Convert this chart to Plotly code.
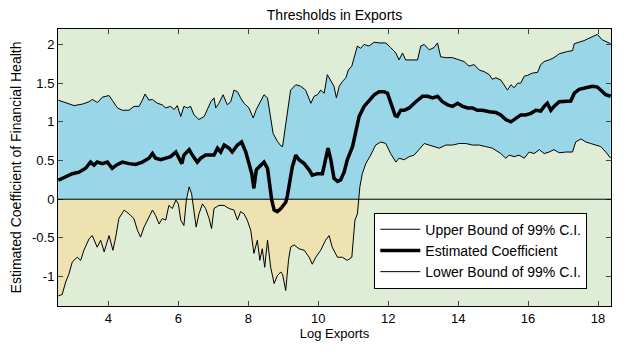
import numpy as np
import plotly.graph_objects as go

# ---- data ----
x_upper = [2.57, 2.78, 3.02, 3.26, 3.45, 3.54, 3.69, 3.83, 4.02, 4.11, 4.26, 4.40, 4.59, 4.73, 4.88, 4.97,
           5.05, 5.16, 5.26, 5.40, 5.54, 5.64, 5.78, 5.88, 5.97, 6.07, 6.16, 6.26, 6.35, 6.45, 6.59, 6.74,
           6.83, 6.93, 7.02, 7.07, 7.16, 7.28, 7.40, 7.50, 7.59, 7.69, 7.78, 7.88, 8.02, 8.14, 8.23, 8.36,
           8.45, 8.55, 8.64, 8.71, 8.83, 8.93, 8.98, 9.02, 9.12, 9.21, 9.36, 9.50, 9.64, 9.79, 9.88, 9.98,
           10.07, 10.17, 10.26, 10.36, 10.45, 10.52, 10.60, 10.69, 10.79, 10.86, 10.96, 11.02, 11.12, 11.21,
           11.31, 11.45, 11.60, 11.74, 11.93, 12.07, 12.22, 12.31, 12.41, 12.50, 12.65, 12.84, 12.93, 13.03,
           13.17, 13.31, 13.41, 13.50, 13.65, 13.84, 14.03, 14.17, 14.31, 14.46, 14.60, 14.74, 14.89, 14.98,
           15.08, 15.22, 15.31, 15.41, 15.51, 15.60, 15.70, 15.79, 15.89, 15.98, 16.12, 16.27, 16.36, 16.46,
           16.60, 16.74, 16.89, 17.03, 17.13, 17.27, 17.32, 17.46, 17.60, 17.74, 17.88, 17.98, 18.12, 18.26, 18.36]
upper = [1.28, 1.25, 1.21, 1.23, 1.26, 1.29, 1.25, 1.32, 1.34, 1.28, 1.18, 1.15, 1.15, 1.20, 1.20, 1.28,
         1.36, 1.28, 1.29, 1.24, 1.22, 1.18, 1.20, 1.16, 1.21, 1.07, 1.20, 1.18, 1.20, 1.09, 1.03, 1.07,
         1.16, 1.26, 1.31, 1.18, 1.24, 1.35, 1.22, 1.26, 1.41, 1.39, 1.31, 1.24, 1.18, 1.05, 1.16, 1.28,
         1.35, 1.31, 1.05, 0.85, 0.75, 0.69, 0.68, 0.81, 1.11, 1.41, 1.48, 1.46, 1.41, 1.24, 1.33, 1.35,
         1.41, 1.37, 1.61, 1.52, 1.46, 1.31, 1.46, 1.52, 1.57, 1.67, 1.72, 1.82, 1.98, 1.95,
         2.00, 1.98, 2.03, 2.02, 2.02, 1.96, 1.89, 1.80, 1.89, 1.80, 1.80, 1.80, 1.98, 2.00,
         1.93, 1.96, 2.02, 1.84, 1.83, 1.83, 1.80, 1.78, 1.72, 1.74, 1.67, 1.65, 1.61, 1.55,
         1.57, 1.54, 1.48, 1.41, 1.48, 1.44, 1.50, 1.50, 1.59, 1.60, 1.63, 1.64, 1.74, 1.78,
         1.80, 1.83, 1.88, 1.90, 1.91, 1.92, 2.01, 2.03, 2.05, 2.08, 2.11, 2.13, 2.06, 2.03, 2.01]

x_est = [2.57, 2.78, 2.97, 3.16, 3.35, 3.49, 3.59, 3.68, 3.83, 3.97, 4.11, 4.26, 4.40, 4.59, 4.78, 4.97,
         5.16, 5.26, 5.35, 5.50, 5.64, 5.78, 5.93, 6.02, 6.10, 6.16, 6.31, 6.40, 6.54, 6.64, 6.78, 6.93,
         7.02, 7.12, 7.21, 7.31, 7.45, 7.54, 7.69, 7.81, 7.93, 8.02, 8.10, 8.16, 8.23, 8.36, 8.45, 8.55,
         8.61, 8.67, 8.74, 8.83, 8.93, 9.02, 9.07, 9.12, 9.19, 9.26, 9.36, 9.45, 9.60, 9.74, 9.83, 9.98,
         10.12, 10.21, 10.28, 10.36, 10.45, 10.55, 10.64, 10.74, 10.83, 10.98, 11.07, 11.17, 11.31, 11.45,
         11.60, 11.74, 11.88, 11.98, 12.07, 12.20, 12.26, 12.36, 12.46, 12.60, 12.79, 12.98, 13.13, 13.27,
         13.41, 13.55, 13.70, 13.84, 13.98, 14.13, 14.27, 14.41, 14.55, 14.70, 14.89, 15.08, 15.22, 15.36,
         15.51, 15.65, 15.79, 15.93, 16.08, 16.22, 16.36, 16.46, 16.55, 16.65, 16.74, 16.89, 17.03, 17.22,
         17.32, 17.46, 17.65, 17.84, 17.98, 18.12, 18.22, 18.36]
estimate = [0.245, 0.29, 0.33, 0.35, 0.40, 0.48, 0.44, 0.48, 0.46, 0.48, 0.40, 0.45, 0.48, 0.46, 0.45, 0.48,
            0.53, 0.59, 0.53, 0.51, 0.53, 0.55, 0.61, 0.53, 0.46, 0.57, 0.64, 0.57, 0.48, 0.53, 0.57, 0.57,
            0.57, 0.66, 0.61, 0.70, 0.66, 0.61, 0.70, 0.74, 0.61, 0.46, 0.33, 0.14, 0.38, 0.44, 0.48, 0.40,
            0.20, -0.01, -0.14, -0.16, -0.12, -0.06, -0.04, 0.05, 0.25, 0.42, 0.57, 0.51, 0.46, 0.38, 0.31, 0.33,
            0.33, 0.55, 0.66, 0.51, 0.27, 0.23, 0.25, 0.35, 0.51, 0.68, 0.85, 1.07, 1.20, 1.28,
            1.35, 1.39, 1.39, 1.37, 1.24, 1.08, 1.07, 1.15, 1.15, 1.18, 1.26, 1.33, 1.33, 1.31,
            1.33, 1.26, 1.22, 1.20, 1.24, 1.20, 1.18, 1.18, 1.15, 1.15, 1.13, 1.12, 1.09, 1.03,
            1.00, 1.05, 1.09, 1.09, 1.11, 1.15, 1.14, 1.20, 1.24, 1.15, 1.20, 1.26, 1.26, 1.27,
            1.37, 1.42, 1.44, 1.46, 1.45, 1.39, 1.35, 1.33]

x_lower = [2.57, 2.68, 2.78, 2.87, 2.97, 3.11, 3.21, 3.30, 3.45, 3.54, 3.68, 3.78, 3.88, 4.02, 4.13, 4.21,
           4.30, 4.45, 4.59, 4.73, 4.83, 4.92, 5.02, 5.11, 5.26, 5.35, 5.45, 5.54, 5.64, 5.73, 5.83, 5.93,
           6.00, 6.07, 6.16, 6.23, 6.31, 6.38, 6.45, 6.51, 6.59, 6.69, 6.78, 6.88, 6.95, 7.02, 7.16, 7.31,
           7.45, 7.59, 7.69, 7.78, 7.88, 7.97, 8.07, 8.16, 8.26, 8.33, 8.40, 8.47, 8.55, 8.64, 8.74, 8.83,
           8.93, 8.98, 9.07, 9.15, 9.21, 9.31, 9.45, 9.60, 9.74, 9.83, 9.93, 10.07, 10.21, 10.31, 10.40,
           10.55, 10.69, 10.83, 10.96, 11.05, 11.12, 11.19, 11.26, 11.36, 11.50, 11.64, 11.79, 11.93, 12.07,
           12.22, 12.31, 12.46, 12.60, 12.74, 12.88, 13.03, 13.17, 13.31, 13.46, 13.65, 13.84, 14.03, 14.22,
           14.41, 14.60, 14.79, 14.98, 15.22, 15.36, 15.46, 15.60, 15.74, 15.89, 16.03, 16.17, 16.32, 16.46,
           16.60, 16.74, 16.89, 17.08, 17.27, 17.36, 17.51, 17.65, 17.79, 17.93, 18.08, 18.22, 18.36]
lower = [-1.25, -1.23, -1.07, -0.97, -0.81, -0.75, -0.79, -0.66, -0.51, -0.47, -0.62, -0.53, -0.68, -0.47, -0.66, -0.49,
         -0.25, -0.14, -0.19, -0.25, -0.40, -0.49, -0.36, -0.27, -0.14, -0.21, -0.32, -0.25, -0.27, -0.08, -0.12, -0.01,
         -0.06, -0.27, -0.34, -0.01, 0.16, 0.07, -0.19, -0.36, -0.19, -0.06, -0.12, -0.25, -0.38, -0.12, -0.08, -0.08,
         -0.12, -0.14, -0.27, -0.16, -0.19, -0.27, -0.40, -0.70, -0.53, -0.79, -0.64, -0.88, -0.53, -0.88, -1.09, -0.99,
         -0.94, -0.97, -1.18, -0.79, -0.62, -0.59, -0.64, -0.66, -0.75, -0.84, -0.75, -0.66, -0.53, -0.47, -0.62,
         -0.75, -0.75, -0.79, -0.75, -0.27, -0.19, 0.16, 0.33, 0.46, 0.57, 0.70, 0.74, 0.72, 0.59,
         0.48, 0.53, 0.51, 0.55, 0.57, 0.64, 0.72, 0.70, 0.68, 0.66, 0.70, 0.70, 0.72, 0.72,
         0.70, 0.70, 0.68, 0.66, 0.59, 0.53, 0.57, 0.55, 0.57, 0.53, 0.61, 0.59, 0.64, 0.59,
         0.61, 0.64, 0.60, 0.61, 0.61, 0.74, 0.78, 0.74, 0.72, 0.70, 0.68, 0.61, 0.53]

x_ticks = [4, 6, 8, 10, 12, 14, 16, 18]
y_ticks = [-1, -0.5, 0, 0.5, 1, 1.5, 2]
y_tick_labels = ["-1", "-0.5", "0", "0.5", "1", "1.5", "2"]

GREEN = "#dfedd6"
BLUE = "#99d7e8"
TAN = "#ede2b0"

fig = go.Figure()
# blue band between bounds
fig.add_trace(go.Scatter(x=x_upper, y=upper, mode="lines", line=dict(width=0, color=BLUE),
                         showlegend=False, hoverinfo="skip"))
fig.add_trace(go.Scatter(x=x_lower, y=lower, mode="lines", line=dict(width=0, color=BLUE),
                         fill="tonexty", fillcolor=BLUE, showlegend=False, hoverinfo="skip"))
# tan area between zero and negative lower bound
fig.add_trace(go.Scatter(x=x_lower, y=np.minimum(np.array(lower), 0), mode="lines",
                         line=dict(width=0, color=TAN), fill="tozeroy", fillcolor=TAN,
                         showlegend=False, hoverinfo="skip"))

fig.add_trace(go.Scatter(x=x_upper, y=upper, mode="lines", name="Upper Bound of 99% C.I.",
                         line=dict(color="black", width=1)))
fig.add_trace(go.Scatter(x=x_est, y=estimate, mode="lines", name="Estimated Coefficient",
                         line=dict(color="black", width=3.5)))
fig.add_trace(go.Scatter(x=x_lower, y=lower, mode="lines", name="Lower Bound of 99% C.I.",
                         line=dict(color="black", width=1)))

fig.add_shape(type="line", xref="paper", x0=0, x1=1, yref="y", y0=0, y1=0,
              line=dict(color="black", width=1), layer="above")

fig.update_layout(
    width=640, height=356,
    margin=dict(l=50, r=37, t=21, b=58, autoexpand=False),
    paper_bgcolor="white", plot_bgcolor=GREEN,
    font=dict(family="Liberation Sans, Arial, sans-serif", size=13, color="black"),
    title=dict(text="Thresholds in Exports", x=0.5, xref="paper", xanchor="center",
               y=1 - 7 / 356, yref="container", yanchor="middle", font=dict(size=14)),
    legend=dict(x=0.572, y=0.337, xanchor="left", yanchor="top", bgcolor="white",
                bordercolor="black", borderwidth=1, font=dict(size=14),
                tracegroupgap=0, itemwidth=40, traceorder="normal"),
    showlegend=True,
)
fig.update_xaxes(range=[2.56, 18.37], tickvals=x_ticks, ticks="inside", ticklen=5,
                 tickfont=dict(size=13), automargin=False,
                 showline=True, linecolor="black", linewidth=1, mirror="ticks",
                 showgrid=False, zeroline=False, layer="above traces",
                 title=dict(text="Log Exports", standoff=4, font=dict(size=13)))
fig.update_yaxes(range=[-1.38, 2.20], tickvals=y_ticks, ticktext=y_tick_labels,
                 tickfont=dict(size=13), automargin=False,
                 ticks="inside", ticklen=5, showline=True, linecolor="black", linewidth=1,
                 mirror="ticks", showgrid=False, zeroline=False, layer="above traces",
                 title=dict(text="Estimated Coefficient of Financial Health", standoff=8,
                            font=dict(size=14)))

fig.write_html("out.html")
